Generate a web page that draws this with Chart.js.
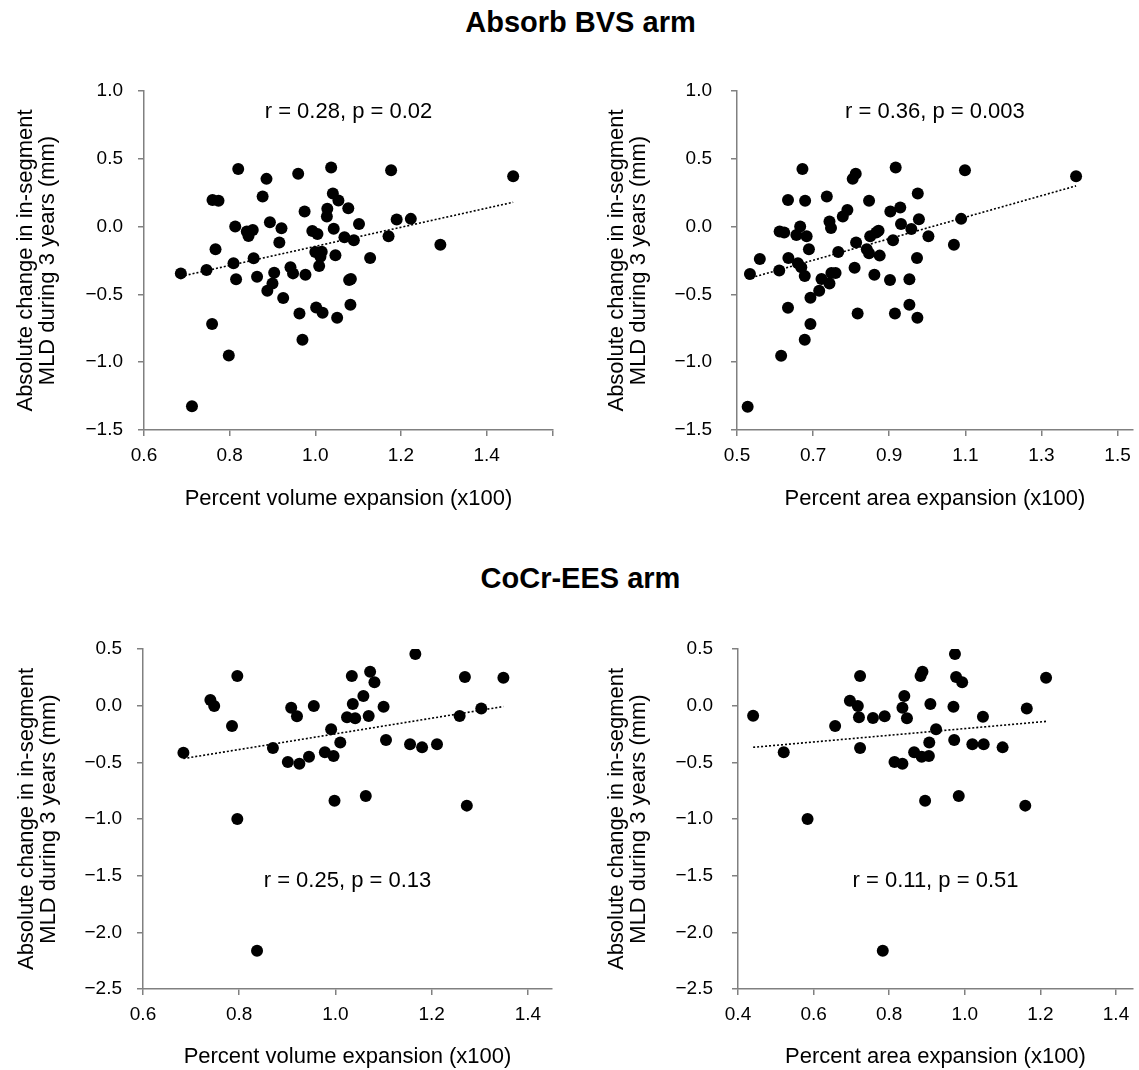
<!DOCTYPE html>
<html><head><meta charset="utf-8">
<script src="https://cdn.jsdelivr.net/npm/chart.js@4/dist/chart.umd.min.js"></script>
<style>
html,body{margin:0;padding:0;background:#fff;}
body{width:1139px;height:1070px;position:relative;overflow:hidden;font-family:"Liberation Sans",Arial,sans-serif;}
.t{position:absolute;left:0;width:1161px;text-align:center;font-weight:bold;font-size:29px;line-height:29px;color:#000;}
canvas{position:absolute;}
</style></head><body>
<div class="t" id="t1" style="top:8px"></div>
<div class="t" id="t2" style="top:564px"></div>
<canvas id="c1"></canvas><canvas id="c2"></canvas><canvas id="c3"></canvas><canvas id="c4"></canvas>
<script>
// ---------- DATA ----------
const panelTitles = ['Absorb BVS arm', 'CoCr-EES arm'];
const yTitle = ['Absolute change in in-segment', 'MLD during 3 years (mm)'];
const xTitleVolume = 'Percent volume expansion (x100)';
const xTitleArea = 'Percent area expansion (x100)';
const notes = ['r = 0.28, p = 0.02', 'r = 0.36, p = 0.003', 'r = 0.25, p = 0.13', 'r = 0.11, p = 0.51'];

const bvsVolX = [0.686,0.712,0.746,0.759,0.760,0.774,0.767,0.798,0.809,0.813,0.815,0.820,0.840,0.844,0.854,0.856,0.864,0.877,0.886,0.894,0.904,0.900,0.888,0.916,0.921,0.925,0.942,0.948,0.960,0.975,0.977,0.963,0.970,0.993,1.005,1.000,1.015,1.009,1.012,1.002,1.017,1.027,1.028,1.037,1.041,1.043,1.047,1.054,1.051,1.068,1.077,1.079,1.083,1.082,1.090,1.102,1.128,1.171,1.177,1.190,1.223,1.292,1.462];
const bvsVolY = [-0.345,-1.325,-0.320,-0.719,0.197,0.190,-0.167,-0.951,-0.271,0.000,-0.389,0.424,-0.037,-0.069,-0.025,-0.234,-0.369,0.222,0.352,0.032,-0.340,-0.419,-0.473,-0.118,-0.012,-0.527,-0.300,-0.345,0.389,0.111,-0.355,-0.640,-0.835,-0.032,-0.054,-0.187,-0.185,-0.291,-0.222,-0.596,-0.635,0.074,0.131,0.436,0.244,-0.015,-0.212,0.192,-0.672,-0.079,0.135,-0.394,-0.387,-0.576,-0.101,0.020,-0.232,-0.071,0.416,0.052,0.057,-0.133,0.372];

const bvsAreaX = [0.528,0.534,0.560,0.612,0.624,0.611,0.616,0.634,0.635,0.634,0.656,0.666,0.660,0.672,0.679,0.683,0.669,0.678,0.689,0.693,0.693,0.678,0.716,0.722,0.736,0.743,0.747,0.743,0.748,0.759,0.766,0.778,0.790,0.804,0.812,0.809,0.813,0.817,0.841,0.847,0.847,0.850,0.861,0.866,0.872,0.875,0.903,0.902,0.910,0.915,0.917,0.929,0.931,0.953,0.953,0.958,0.975,0.978,0.973,0.974,1.003,1.070,1.089,1.099,1.391];
const bvsAreaY = [-1.328,-0.350,-0.239,-0.037,-0.044,-0.323,-0.953,0.197,-0.232,-0.599,-0.062,0.000,-0.271,0.424,0.190,-0.071,-0.300,-0.365,-0.167,-0.525,-0.719,-0.835,-0.473,-0.387,0.222,0.037,-0.010,-0.419,-0.342,-0.342,-0.187,0.074,0.123,0.352,0.389,-0.303,-0.118,-0.640,-0.167,-0.197,0.190,-0.071,-0.355,-0.044,-0.030,-0.214,0.111,-0.394,-0.101,-0.640,0.436,0.140,0.020,-0.389,-0.576,-0.017,0.244,0.054,-0.232,-0.672,-0.071,-0.133,0.057,0.416,0.372];

const eesVolX = [0.684,0.740,0.748,0.785,0.796,0.796,0.837,0.870,0.901,0.908,0.920,0.925,0.945,0.955,0.978,0.991,0.996,0.998,1.010,1.024,1.041,1.034,1.036,1.058,1.069,1.063,1.072,1.081,1.100,1.105,1.155,1.166,1.180,1.211,1.258,1.269,1.273,1.303,1.349];
const eesVolY = [-0.415,0.050,-0.003,-0.179,0.262,-1.000,-2.162,-0.374,-0.497,-0.018,-0.094,-0.512,-0.450,-0.003,-0.412,-0.209,-0.444,-0.838,-0.326,-0.103,-0.112,0.262,0.015,0.085,-0.091,-0.797,0.300,0.206,-0.009,-0.303,-0.341,0.456,-0.368,-0.341,-0.091,0.253,-0.882,-0.026,0.247];

const eesAreaX = [0.440,0.521,0.584,0.657,0.696,0.717,0.720,0.723,0.723,0.757,0.783,0.788,0.814,0.835,0.835,0.840,0.847,0.866,0.883,0.888,0.886,0.905,0.895,0.906,0.909,0.924,0.972,0.970,0.974,0.977,0.993,0.984,1.020,1.050,1.048,1.100,1.160,1.164,1.215];
const eesAreaY = [-0.088,-0.412,-1.000,-0.179,0.044,-0.003,-0.103,0.262,-0.374,-0.109,-2.162,-0.094,-0.497,-0.512,-0.018,0.085,-0.112,-0.412,0.262,0.300,-0.450,-0.444,-0.838,-0.326,0.015,-0.209,-0.303,-0.009,0.456,0.253,0.206,-0.797,-0.341,-0.341,-0.097,-0.368,-0.882,-0.026,0.247];

const xTicksBvsVol = [0.6, 0.8, 1.0, 1.2, 1.4];
const xTicksBvsArea = [0.5, 0.7, 0.9, 1.1, 1.3, 1.5];
const xTicksEesVol = [0.6, 0.8, 1.0, 1.2, 1.4];
const xTicksEesArea = [0.4, 0.6, 0.8, 1.0, 1.2, 1.4];
const yTicksBvs = [-1.5, -1.0, -0.5, 0.0, 0.5, 1.0];
const yTicksEes = [-2.5, -2.0, -1.5, -1.0, -0.5, 0.0, 0.5];

// ---------- RENDER ----------
document.getElementById('t1').textContent = panelTitles[0];
document.getElementById('t2').textContent = panelTitles[1];

Chart.defaults.font.family = '"Liberation Sans", Arial, sans-serif';
const AXIS = '#808080';

function regression(xs, ys) {
  const n = xs.length;
  let sx = 0, sy = 0, sxx = 0, sxy = 0;
  for (let i = 0; i < n; i++) { sx += xs[i]; sy += ys[i]; sxx += xs[i]*xs[i]; sxy += xs[i]*ys[i]; }
  const b = (n*sxy - sx*sy) / (n*sxx - sx*sx);
  const a = (sy - b*sx) / n;
  const x0 = Math.min(...xs), x1 = Math.max(...xs);
  return [{x: x0, y: a + b*x0}, {x: x1, y: a + b*x1}];
}

const notePlugin = {
  id: 'note',
  afterDatasetsDraw(chart, args, opts) {
    const a = chart.chartArea, ctx = chart.ctx;
    ctx.save();
    ctx.font = '22px "Liberation Sans", Arial, sans-serif';
    ctx.fillStyle = '#000';
    ctx.textAlign = 'center';
    ctx.textBaseline = 'alphabetic';
    ctx.fillText(opts.text, (a.left + a.right) / 2, a.top + opts.fy * (a.bottom - a.top));
    ctx.restore();
  }
};

function fmtY(v) {
  const s = Math.abs(v).toFixed(1);
  return v < 0 ? '\u2212' + s : s;
}

function panel(id, L) {
  const el = document.getElementById(id);
  el.style.left = L.left + 'px'; el.style.top = L.top + 'px';
  el.width = L.w; el.height = L.h;
  const pts = L.xs.map((v, i) => ({x: v, y: L.ys[i]}));
  const trend = regression(L.xs, L.ys);
  const tickAll = L.xEnd ? L.xTicks.concat([L.xMax]) : L.xTicks;
  new Chart(el, {
    type: 'scatter',
    data: {datasets: [
      {data: pts, backgroundColor: '#000', borderColor: '#000', borderWidth: 0, pointRadius: 6, pointHoverRadius: 6, order: 2},
      {data: trend, showLine: true, borderColor: '#000', borderWidth: 1.6, borderDash: [2, 2], pointRadius: 0, order: 1}
    ]},
    options: {
      responsive: false, animation: false, events: [],
      layout: {padding: L.pad},
      plugins: {legend: {display: false}, tooltip: {enabled: false}, note: {text: L.note, fy: L.fy}},
      scales: {
        x: {
          type: 'linear', min: L.xMin, max: L.xMax,
          afterBuildTicks: s => { s.ticks = tickAll.map(v => ({value: v})); },
          afterFit: s => { s.height = L.xH; },
          ticks: {autoSkip: false, maxRotation: 0, padding: 8, color: '#000', font: {size: 19},
            callback: v => (L.xTicks.some(t => Math.abs(t - v) < 1e-9) ? v.toFixed(1) : '')},
          grid: {display: true, drawOnChartArea: false, drawTicks: true, tickLength: 6, color: AXIS, lineWidth: 1.5},
          border: {display: true, color: AXIS, width: 1.5},
          title: {display: true, text: L.xTitle, color: '#000', font: {size: 22, lineHeight: 1.2}, padding: 0}
        },
        y: {
          type: 'linear', min: L.yMin, max: L.yMax,
          afterBuildTicks: s => { s.ticks = L.yTicks.map(v => ({value: v})); },
          afterFit: s => { s.width = L.yW; },
          ticks: {autoSkip: false, padding: L.yPad, color: '#000', font: {size: 19},
            callback: v => fmtY(v)},
          grid: {display: true, drawOnChartArea: false, drawTicks: true, tickLength: 6, color: AXIS, lineWidth: 1.5},
          border: {display: true, color: AXIS, width: 1.5},
          title: {display: true, text: yTitle, color: '#000', font: {size: 22, lineHeight: 1.0}, padding: {top: L.yTitlePad, bottom: 0}}
        }
      }
    },
    plugins: [notePlugin]
  });
}

panel('c1', {left: 0, top: 60, w: 575, h: 470, pad: {top: 31, right: 22, bottom: 18, left: 0},
  xs: bvsVolX, ys: bvsVolY, xMin: 0.6, xMax: 1.555, xTicks: xTicksBvsVol, xEnd: true,
  yMin: -1.5, yMax: 1.0, yTicks: yTicksBvs, yW: 144, xH: 82, yPad: 15, yTitlePad: 15,
  xTitle: xTitleVolume, note: notes[0], fy: 0.08});
panel('c2', {left: 575, top: 60, w: 564, h: 470, pad: {top: 31, right: 0, bottom: 18, left: 0},
  xs: bvsAreaX, ys: bvsAreaY, xMin: 0.5, xMax: 1.54, xTicks: xTicksBvsArea, xEnd: false,
  yMin: -1.5, yMax: 1.0, yTicks: yTicksBvs, yW: 162, xH: 82, yPad: 19, yTitlePad: 31,
  xTitle: xTitleArea, note: notes[1], fy: 0.08});
panel('c3', {left: 0, top: 600, w: 575, h: 470, pad: {top: 49, right: 23, bottom: 0, left: 0},
  xs: eesVolX, ys: eesVolY, xMin: 0.6, xMax: 1.45, xTicks: xTicksEesVol, xEnd: false,
  yMin: -2.5, yMax: 0.5, yTicks: yTicksEes, yW: 143, xH: 81, yPad: 15, yTitlePad: 16,
  xTitle: xTitleVolume, note: notes[2], fy: 0.70});
panel('c4', {left: 575, top: 600, w: 564, h: 470, pad: {top: 49, right: 0, bottom: 0, left: 0},
  xs: eesAreaX, ys: eesAreaY, xMin: 0.4, xMax: 1.445, xTicks: xTicksEesArea, xEnd: false,
  yMin: -2.5, yMax: 0.5, yTicks: yTicksEes, yW: 163, xH: 81, yPad: 19, yTitlePad: 31,
  xTitle: xTitleArea, note: notes[3], fy: 0.70});
</script>
</body></html>
